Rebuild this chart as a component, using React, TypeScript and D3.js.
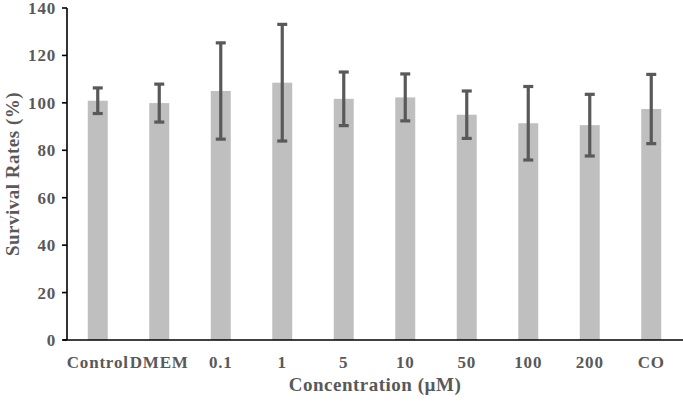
import React from "react";
import * as d3 from "d3";

const categories = ["Control", "DMEM", "0.1", "1", "5", "10", "50", "100", "200", "CO"];
const means = [100.9, 99.9, 105.0, 108.5, 101.7, 102.3, 95.0, 91.4, 90.6, 97.4];
const errors = [5.4, 8.0, 20.3, 24.6, 11.3, 9.9, 10.0, 15.5, 13.0, 14.6];
const yTicks = [0, 20, 40, 60, 80, 100, 120, 140];

export default function App() {
  const W = 683, H = 402;
  const x = d3.scaleBand<string>().domain(categories).range([67, 682]).paddingInner(0.675).paddingOuter(0.3375);
  const y = d3.scaleLinear().domain([0, 140]).range([340, 8]);
  const font = "'Liberation Serif', 'Times New Roman', serif";
  const txt = "#595959";
  return (
    <svg width={W} height={H} style={{ position: "absolute", left: 0, top: 0, background: "#fff" }}>
      {categories.map((c, i) => (
        <rect key={c} x={x(c)} y={y(means[i])} width={x.bandwidth()} height={y(0) - y(means[i])} fill="#bfbfbf" />
      ))}
      {categories.map((c, i) => {
        const cx = (x(c) as number) + x.bandwidth() / 2;
        const t = y(means[i] + errors[i]);
        const b = y(means[i] - errors[i]);
        return (
          <g key={c} stroke="#595959" strokeWidth={3.2}>
            <line x1={cx} x2={cx} y1={t} y2={b} />
            <line x1={cx - 5} x2={cx + 5} y1={t} y2={t} />
            <line x1={cx - 5} x2={cx + 5} y1={b} y2={b} />
          </g>
        );
      })}
      <line x1={67} x2={67} y1={y(140)} y2={y(0)} stroke="#000" strokeWidth={1.6} />
      <line x1={63} x2={683} y1={y(0)} y2={y(0)} stroke="#000" strokeWidth={1.6} />
      {yTicks.map((v) => (
        <g key={v}>
          <line x1={62} x2={67} y1={y(v)} y2={y(v)} stroke="#000" strokeWidth={1.6} />
          <text x={56} y={y(v)} dy="0.35em" textAnchor="end" fontFamily={font} fontWeight="bold" fontSize={17} fill={txt} letterSpacing={0.8}>
            {v}
          </text>
        </g>
      ))}
      {categories.map((c) => (
        <text key={c} x={(x(c) as number) + x.bandwidth() / 2} y={362} dy="0.35em" textAnchor="middle" fontFamily={font} fontWeight="bold" fontSize={17} fill={txt} letterSpacing={0.8}>
          {c}
        </text>
      ))}
      <text x={375} y={391} textAnchor="middle" fontFamily={font} fontWeight="bold" fontSize={19} fill={txt} letterSpacing={0.5}>
        Concentration (µM)
      </text>
      <text transform={`translate(19,174) rotate(-90)`} textAnchor="middle" fontFamily={font} fontWeight="bold" fontSize={19} fill={txt} letterSpacing={0.5}>
        Survival Rates (%)
      </text>
    </svg>
  );
}
